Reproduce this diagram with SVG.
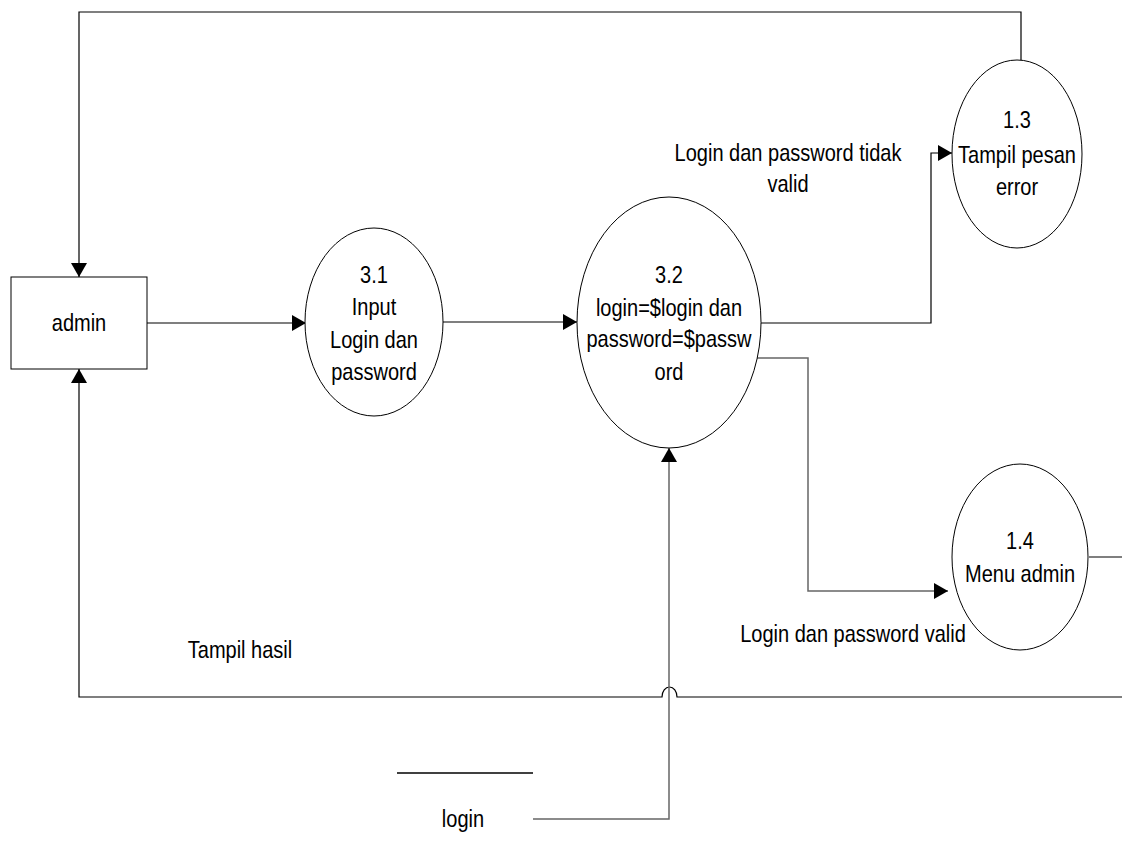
<svg xmlns="http://www.w3.org/2000/svg" width="1122" height="864" viewBox="0 0 1122 864">
<style>
.t{font-family:"Liberation Sans",Arial,sans-serif;font-size:24px;fill:#000;text-anchor:middle}
.n{fill:#fff;stroke:#000;stroke-width:1}
.c{fill:none;stroke:#000;stroke-width:1.2}
.g{fill:none;stroke:#666;stroke-width:1.5}
</style>
<defs>
<marker id="ah" markerUnits="userSpaceOnUse" markerWidth="16" markerHeight="18" refX="14" refY="8" orient="auto">
<path d="M0,0 L14,8 L0,16 Z" fill="#000"/>
</marker>
</defs>
<g id="connectors">
<path class="c" d="M1021,60 V12 H79 V277" marker-end="url(#ah)"/>
<path class="c" d="M147,323 H306" marker-end="url(#ah)"/>
<path class="c" d="M443,322 H577" marker-end="url(#ah)"/>
<path class="c" d="M760,323 H931 V153 H952" marker-end="url(#ah)"/>
<path class="g" d="M757,358 H808 V591 H948" marker-end="url(#ah)"/>
<path class="c" d="M1089,557 H1122"/>
<path class="c" d="M1122,697 H677 A7.5,10 0 0 0 662,697 H79 V369" marker-end="url(#ah)"/>
<path class="g" d="M533,819 H669 V448" marker-end="url(#ah)"/>
</g>
<g id="admin">
<rect class="n" x="11" y="277" width="136" height="92"/>
<text class="t" transform="translate(79 0) scale(0.834 1)" x="0" y="331">admin</text>
</g>
<g id="p31">
<ellipse class="n" cx="374" cy="322" rx="69" ry="94"/>
<text class="t" transform="translate(374 0) scale(0.834 1)" x="0"><tspan x="0" y="283">3.1</tspan><tspan x="0" y="315">Input</tspan><tspan x="0" y="348">Login dan</tspan><tspan x="0" y="380">password</tspan></text>
</g>
<g id="p32">
<ellipse class="n" cx="669" cy="322.5" rx="92" ry="125.5"/>
<text class="t" transform="translate(669 0) scale(0.834 1)" x="0"><tspan x="0" y="283">3.2</tspan><tspan x="0" y="316">login=$login dan</tspan><tspan x="0" y="347">password=$passw</tspan><tspan x="0" y="380">ord</tspan></text>
</g>
<g id="p13">
<ellipse class="n" cx="1017" cy="154" rx="65" ry="94"/>
<text class="t" transform="translate(1017 0) scale(0.834 1)" x="0"><tspan x="0" y="128">1.3</tspan><tspan x="0" y="163">Tampil pesan</tspan><tspan x="0" y="195">error</tspan></text>
</g>
<g id="p14">
<ellipse class="n" cx="1020" cy="557" rx="68" ry="93"/>
<text class="t" transform="translate(1020 0) scale(0.834 1)" x="0"><tspan x="0" y="549">1.4</tspan><tspan x="0" y="582">Menu admin</tspan></text>
</g>
<g id="store-login">
<line x1="397" y1="773" x2="533" y2="773" stroke="#000" stroke-width="1.5"/>
<text class="t" transform="translate(463 0) scale(0.834 1)" x="0" y="827">login</text>
</g>
<g id="labels">
<text class="t" transform="translate(788 0) scale(0.834 1)" x="0"><tspan x="0" y="161">Login dan password tidak</tspan><tspan x="0" y="192">valid</tspan></text>
<text class="t" transform="translate(853 0) scale(0.834 1)" x="0" y="642">Login dan password valid</text>
<text class="t" transform="translate(240 0) scale(0.834 1)" x="0" y="658">Tampil hasil</text>
</g>
</svg>
